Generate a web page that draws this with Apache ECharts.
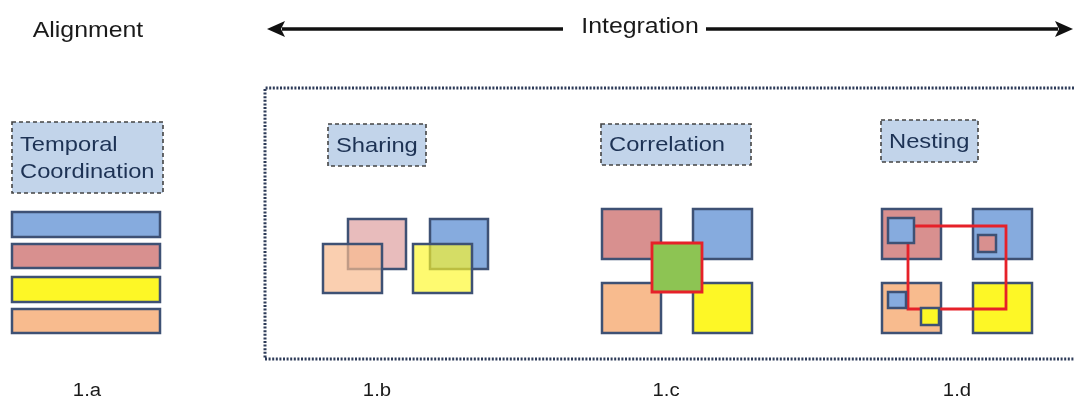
<!DOCTYPE html>
<html>
<head>
<meta charset="utf-8">
<title>Alignment / Integration</title>
<script src="https://cdn.jsdelivr.net/npm/echarts@6/dist/echarts.min.js"></script>
<style>
  html, body { margin: 0; padding: 0; background: #fff; }
  #chartWrap { width: 1074px; height: 403px; }
</style>
</head>
<body>
<div id="chartWrap"></div>
<script>
// 图中各块的位置（按画布像素作为坐标值） [x0, y0, x1, y1, 颜色键]
var alignBars = [
	[12, 212, 160, 237, 'blue'],
	[12, 244, 160, 268, 'pink'],
	[12, 277, 160, 302, 'yellow'],
	[12, 309, 160, 333, 'peach']
];
var sharingRects = [
	[348, 219, 406, 269, 'pinkSee'],
	[323, 244, 382, 293, 'peachSee'],
	[430, 219, 488, 269, 'blue'],
	[413, 244, 472, 293, 'yellowSee']
];
var correlationRects = [
	[602, 209, 661, 259, 'pink'],
	[693, 209, 752, 259, 'blue'],
	[602, 283, 661, 333, 'peach'],
	[693, 283, 752, 333, 'yellow'],
	[652, 243, 702, 292, 'green']
];
var nestingRects = [
	[882, 209, 941, 259, 'pink'],
	[973, 209, 1032, 259, 'blue'],
	[882, 283, 941, 333, 'peach'],
	[973, 283, 1032, 333, 'yellow'],
	[908, 226, 1006, 309, 'link'],
	[888, 218, 914, 243, 'blue'],
	[978, 235, 996, 252, 'pink'],
	[888, 292, 906, 308, 'blue'],
	[921, 308, 939, 325, 'yellow']
];
// 虚线标签框 [x0, y0, x1, y1, 文字]
var tagBoxes = [
	[12, 122, 163, 193, 'Temporal\nCoordination'],
	[328, 124, 426, 166, 'Sharing'],
	[601, 124, 751, 165, 'Correlation'],
	[881, 120, 978, 162, 'Nesting']
];
// 标题与编号 [x, y, 文字]
var headings = [
	[88, 31, 'Alignment'],
	[640, 27, 'Integration']
];
var captions = [
	[87, 391, '1.a'],
	[377, 391, '1.b'],
	[666, 391, '1.c'],
	[957, 391, '1.d']
];
// 箭头 [起点x, y, 箭头x, y]
var arrows = [
	[563, 29, 267, 29],
	[706, 29, 1073, 29]
];
// 点线外框 [x0, y0, x1, y1]，右侧开口
var frames = [
	[265, 88, 1074, 359]
];

var palette = {
	blue:      { fill: '#86abde', stroke: '#3e5174' },
	pink:      { fill: '#d8908f', stroke: '#3e5174' },
	yellow:    { fill: '#fdf726', stroke: '#3e5174' },
	peach:     { fill: '#f8bb8e', stroke: '#3e5174' },
	green:     { fill: '#8dc453', stroke: '#e62129' },
	link:      { fill: 'none',    stroke: '#e62129' },
	pinkSee:   { fill: 'rgba(216,144,143,0.6)', stroke: '#3e5174' },
	peachSee:  { fill: 'rgba(248,187,142,0.7)', stroke: '#3e5174' },
	yellowSee: { fill: 'rgba(253,247,38,0.66)', stroke: '#3e5174' }
};
var FONT = '"Liberation Sans", Arial, Helvetica, sans-serif';
var STRETCH = 1.13;

var dom = document.getElementById('chartWrap');
var myChart = echarts.init(dom, null, { renderer: 'canvas' });

function nums(arr, n) {
	var out = [];
	for (var i = 0; i < arr.length; i++) {
		out.push(arr[i].slice(0, n));
	}
	return out;
}

function rectSeries(arr) {
	return {
		type: 'custom',
		coordinateSystem: 'cartesian2d',
		clip: false,
		silent: true,
		data: nums(arr, 4),
		renderItem: function (params, api) {
			var p0 = api.coord([api.value(0), api.value(1)]);
			var p1 = api.coord([api.value(2), api.value(3)]);
			var st = palette[arr[params.dataIndex][4]];
			return {
				type: 'rect',
				shape: { x: p0[0], y: p0[1], width: p1[0] - p0[0], height: p1[1] - p0[1] },
				style: {
					fill: st.fill,
					stroke: st.stroke,
					lineWidth: st.stroke === '#e62129' ? 2.8 : 2.5
				}
			};
		}
	};
}

function tagSeries(arr) {
	return {
		type: 'custom',
		coordinateSystem: 'cartesian2d',
		clip: false,
		silent: true,
		data: nums(arr, 4),
		renderItem: function (params, api) {
			var p0 = api.coord([api.value(0), api.value(1)]);
			var p1 = api.coord([api.value(2), api.value(3)]);
			return {
				type: 'group',
				children: [{
					type: 'rect',
					shape: { x: p0[0], y: p0[1], width: p1[0] - p0[0], height: p1[1] - p0[1] },
					style: { fill: '#c2d4ea', stroke: '#444', lineWidth: 1.6, lineDash: [4, 3] }
				}, {
					type: 'text',
					x: p0[0] + 8,
					y: (p0[1] + p1[1]) / 2 + 1,
					scaleX: STRETCH,
					style: {
						text: arr[params.dataIndex][4],
						font: '21px ' + FONT,
						fill: '#1d3254',
						align: 'left',
						verticalAlign: 'middle',
						lineHeight: 27
					}
				}]
			};
		}
	};
}

function textSeries(arr, size, color) {
	return {
		type: 'custom',
		coordinateSystem: 'cartesian2d',
		clip: false,
		silent: true,
		data: nums(arr, 2),
		renderItem: function (params, api) {
			var p = api.coord([api.value(0), api.value(1)]);
			return {
				type: 'text',
				x: p[0],
				y: p[1],
				scaleX: STRETCH,
				style: {
					text: arr[params.dataIndex][2],
					font: size + 'px ' + FONT,
					fill: color,
					align: 'center',
					verticalAlign: 'middle'
				}
			};
		}
	};
}

var arrowSeries = {
	type: 'custom',
	coordinateSystem: 'cartesian2d',
	clip: false,
	silent: true,
	data: arrows,
	renderItem: function (params, api) {
		var a = api.coord([api.value(0), api.value(1)]);
		var b = api.coord([api.value(2), api.value(3)]);
		var dir = b[0] > a[0] ? 1 : -1;
		var headLen = 18, half = 8;
		return {
			type: 'group',
			children: [{
				type: 'line',
				shape: { x1: a[0], y1: a[1], x2: b[0] - dir * (headLen - 3), y2: b[1] },
				style: { stroke: '#111', lineWidth: 3.4 }
			}, {
				type: 'polygon',
				shape: { points: [[b[0], b[1]], [b[0] - dir * headLen, b[1] - half], [b[0] - dir * (headLen - 4), b[1]], [b[0] - dir * headLen, b[1] + half]] },
				style: { fill: '#111' }
			}]
		};
	}
};

var frameSeries = {
	type: 'custom',
	coordinateSystem: 'cartesian2d',
	clip: false,
	silent: true,
	data: frames,
	renderItem: function (params, api) {
		var p0 = api.coord([api.value(0), api.value(1)]);
		var p1 = api.coord([api.value(2), api.value(3)]);
		return {
			type: 'polyline',
			shape: { points: [[p1[0], p0[1]], [p0[0], p0[1]], [p0[0], p1[1]], [p1[0], p1[1]]] },
			style: { fill: 'none', stroke: '#2d3b58', lineWidth: 3, lineDash: [2, 1.6] }
		};
	}
};

var option = {
	backgroundColor: '#ffffff',
	animation: false,
	grid: { left: 0, right: 0, top: 0, bottom: 0 },
	xAxis: { type: 'value', min: 0, max: 1074, show: false },
	yAxis: { type: 'value', min: 0, max: 403, inverse: true, show: false },
	series: [
		frameSeries,
		arrowSeries,
		textSeries(headings, 22, '#1a1a1a'),
		tagSeries(tagBoxes),
		rectSeries(alignBars),
		rectSeries(sharingRects),
		rectSeries(correlationRects),
		rectSeries(nestingRects),
		textSeries(captions, 18, '#1a1a1a')
	]
};

if (option && typeof option === "object") {
	myChart.setOption(option, true);
}
</script>
</body>
</html>
